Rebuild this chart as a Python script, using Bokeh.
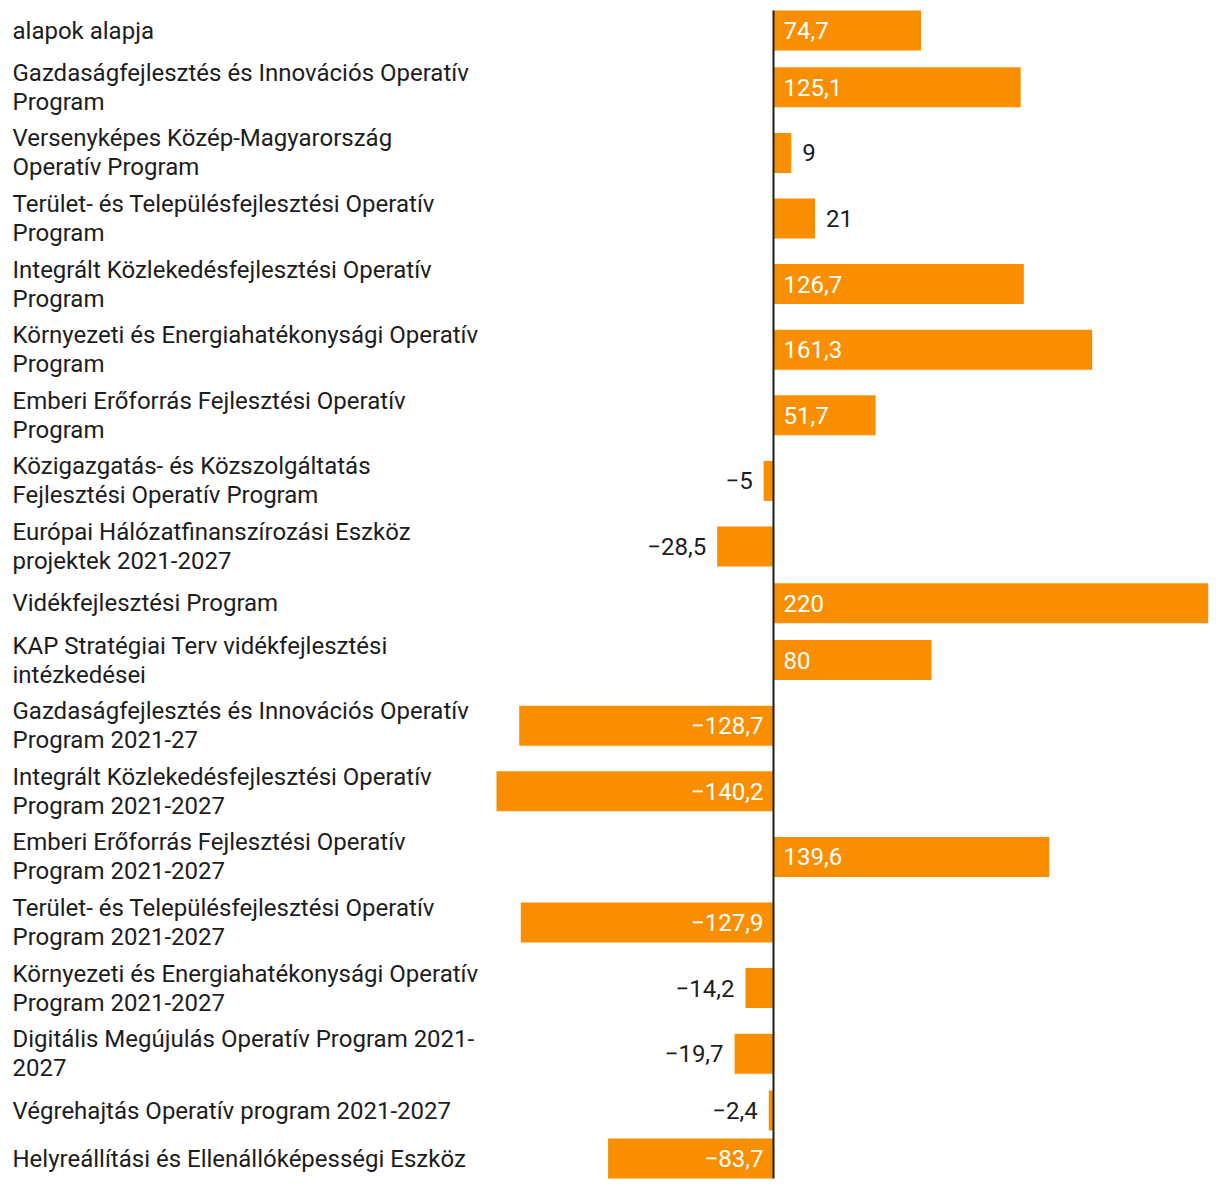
from bokeh.plotting import figure
from bokeh.models import ColumnDataSource, Range1d
from bokeh.core.properties import value
from bokeh.embed import file_html
from bokeh.resources import INLINE

# ---- data ----
categories = [
    "alapok alapja",
    "Gazdaságfejlesztés és Innovációs Operatív\nProgram",
    "Versenyképes Közép-Magyarország\nOperatív Program",
    "Terület- és Településfejlesztési Operatív\nProgram",
    "Integrált Közlekedésfejlesztési Operatív\nProgram",
    "Környezeti és Energiahatékonysági Operatív\nProgram",
    "Emberi Erőforrás Fejlesztési Operatív\nProgram",
    "Közigazgatás- és Közszolgáltatás\nFejlesztési Operatív Program",
    "Európai Hálózatfinanszírozási Eszköz\nprojektek 2021-2027",
    "Vidékfejlesztési Program",
    "KAP Stratégiai Terv vidékfejlesztési\nintézkedései",
    "Gazdaságfejlesztés és Innovációs Operatív\nProgram 2021-27",
    "Integrált Közlekedésfejlesztési Operatív\nProgram 2021-2027",
    "Emberi Erőforrás Fejlesztési Operatív\nProgram 2021-2027",
    "Terület- és Településfejlesztési Operatív\nProgram 2021-2027",
    "Környezeti és Energiahatékonysági Operatív\nProgram 2021-2027",
    "Digitális Megújulás Operatív Program 2021-\n2027",
    "Végrehajtás Operatív program 2021-2027",
    "Helyreállítási és Ellenállóképességi Eszköz",
]
values = [74.7, 125.1, 9, 21, 126.7, 161.3, 51.7, -5, -28.5, 220, 80,
          -128.7, -140.2, 139.6, -127.9, -14.2, -19.7, -2.4, -83.7]

# ---- layout ----
W, H = 1212, 1180
ZERO_PX = 773
PX_PER_UNIT = 434.7 / 220.0
X0 = -ZERO_PX / PX_PER_UNIT
X1 = X0 + W / PX_PER_UNIT

BAR_H = 40
LINE_H = 28.8
PAD = 8
TOP = 6

centers = []
top = TOP
for c in categories:
    n = c.count("\n") + 1
    h = max(BAR_H, LINE_H * n) + PAD
    centers.append(top + h / 2)
    top += h

ORANGE = "#f98e00"
DARK = "#1d1d1d"


def fmt(v):
    s = ("%.1f" % abs(v)).rstrip("0").rstrip(".").replace(".", ",")
    return ("\u2212" + s) if v < 0 else s


lab_x, lab_off, lab_align, lab_col = [], [], [], []
for v in values:
    inside = abs(v) * PX_PER_UNIT > 80
    sign = 1 if v >= 0 else -1
    if inside:
        lab_x.append(0)
        lab_off.append(10 * sign)
        lab_col.append("white")
    else:
        lab_x.append(v)
        lab_off.append(11 * sign)
        lab_col.append(DARK)
    lab_align.append("left" if sign > 0 else "right")

src = ColumnDataSource(dict(
    y=centers, v=values, cat=categories,
    lx=lab_x, loff=lab_off, lalign=lab_align, lcol=lab_col,
    ltxt=[fmt(v) for v in values],
    cx=[X0] * len(values),
))

p = figure(width=W, height=H, output_backend="svg", toolbar_location=None,
           x_range=Range1d(X0, X1), y_range=Range1d(H, 0),
           min_border=0, min_border_left=0, min_border_right=0,
           min_border_top=0, min_border_bottom=0)
p.axis.visible = False
p.grid.visible = False
p.outline_line_color = None
p.background_fill_color = "white"

p.hbar(y="y", left=0, right="v", height=BAR_H, source=src,
       fill_color=ORANGE, line_color=None)

# zero line
first_top = centers[0] - BAR_H / 2
last_bot = centers[-1] + BAR_H / 2
p.segment(x0=[0], y0=[first_top], x1=[0], y1=[last_bot],
          line_color=DARK, line_width=2)

# category labels
p.text(x="cx", y="y", text="cat", source=src, x_offset=12,
       text_align="left", text_baseline="middle",
       text_font=value("Roboto"), text_font_size="24px",
       text_line_height=1.03, text_color=DARK)

# value labels
p.text(x="lx", y="y", text="ltxt", source=src, x_offset="loff",
       text_align="lalign", text_baseline="middle",
       text_font=value("Roboto"), text_font_size="24px",
       text_color="lcol")

open("out.html", "w").write(file_html(p, INLINE))
